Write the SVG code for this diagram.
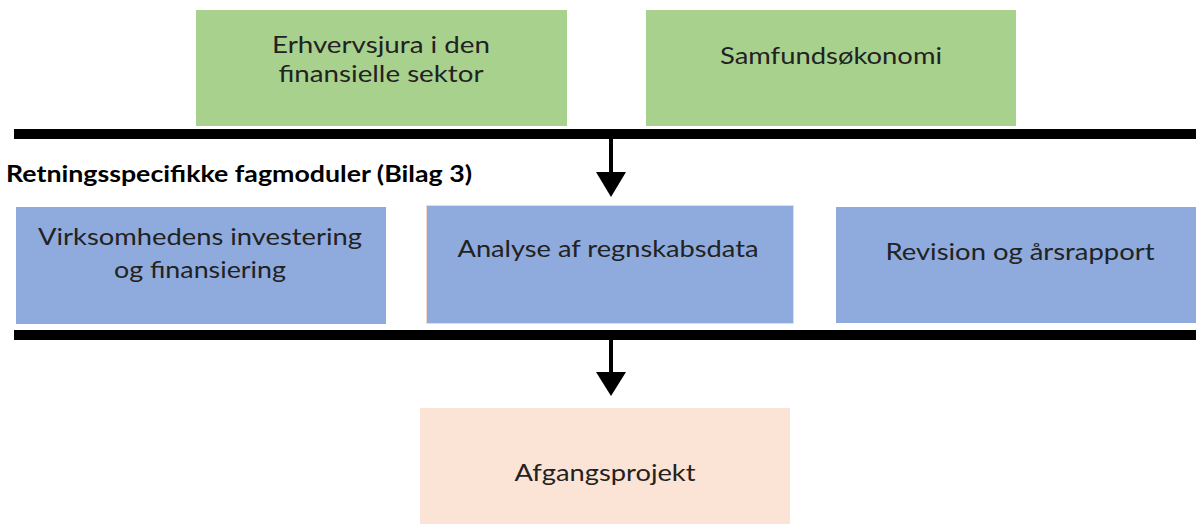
<svg xmlns="http://www.w3.org/2000/svg" width="1196" height="524" viewBox="0 0 1196 524">
<style>
.t{font-family:Lato,"Liberation Sans",sans-serif;font-size:24px;fill:#222;text-anchor:middle}
.h{font-family:Lato,"Liberation Sans",sans-serif;font-size:23px;font-weight:bold;fill:#000}
.g{fill:#A9D18E}
.b{fill:#8FAADC}
.p{fill:#FBE3D6}
</style>
<rect width="1196" height="524" fill="#fff"/>
<g id="n-erhverv">
<rect class="g" x="196" y="10" width="371" height="116"/>
<text class="t" x="381" y="53" textLength="218" lengthAdjust="spacingAndGlyphs">Erhvervsjura i den</text>
<text class="t" x="381" y="82" textLength="205" lengthAdjust="spacingAndGlyphs">finansielle sektor</text>
</g>
<g id="n-samfund">
<rect class="g" x="646" y="10" width="370" height="116"/>
<text class="t" x="831" y="64" textLength="222" lengthAdjust="spacingAndGlyphs">Samfundsøkonomi</text>
</g>
<text class="h" x="6" y="182" textLength="466" lengthAdjust="spacingAndGlyphs">Retningsspecifikke fagmoduler (Bilag 3)</text>
<g id="n-virk">
<rect class="b" x="16" y="207" width="370" height="117"/>
<text class="t" x="200" y="245" textLength="324" lengthAdjust="spacingAndGlyphs">Virksomhedens investering</text>
<text class="t" x="200" y="278" textLength="172" lengthAdjust="spacingAndGlyphs">og finansiering</text>
</g>
<g id="n-analyse">
<rect class="b" x="426.5" y="205.5" width="367" height="118" stroke="#F3D9C8" stroke-width="1"/>
<text class="t" x="608" y="257" textLength="301" lengthAdjust="spacingAndGlyphs">Analyse af regnskabsdata</text>
</g>
<g id="n-revision">
<rect class="b" x="836" y="207" width="360" height="116"/>
<text class="t" x="1020" y="260" textLength="269" lengthAdjust="spacingAndGlyphs">Revision og årsrapport</text>
</g>
<g id="n-afgang">
<rect class="p" x="420" y="408" width="370" height="116"/>
<text class="t" x="605" y="481" textLength="181" lengthAdjust="spacingAndGlyphs">Afgangsprojekt</text>
</g>
<g id="connectors">
<rect x="14" y="129" width="1182" height="10" fill="#000"/>
<rect x="14" y="330" width="1182" height="10" fill="#000"/>
<line x1="611" y1="139" x2="611" y2="173" stroke="#000" stroke-width="4"/>
<path d="M596,172 L626,172 L611,197 Z" fill="#000"/>
<line x1="611" y1="340" x2="611" y2="373" stroke="#000" stroke-width="4"/>
<path d="M596,372 L626,372 L611,396 Z" fill="#000"/>
</g>
</svg>
